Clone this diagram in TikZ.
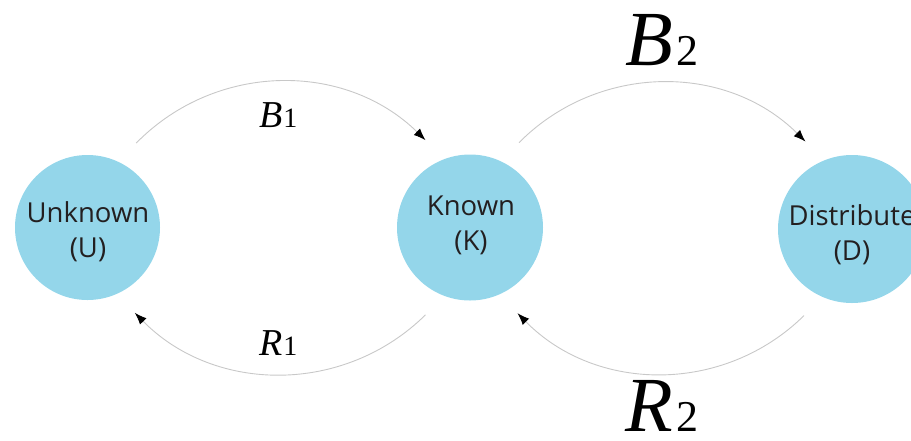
\documentclass[tikz,border=0pt]{standalone}
\usepackage{fontspec}
\newfontfamily\nodefont{Open Sans}
\newfontfamily\lblfont{Liberation Serif}
\usetikzlibrary{arrows.meta}
\definecolor{circfill}{RGB}{148,214,234}
\definecolor{txtc}{RGB}{35,31,32}
\definecolor{arcgray}{RGB}{200,200,200}
\begin{document}
\begin{tikzpicture}[x=1pt,y=1pt,
  state/.style={circle,fill=circfill,draw=none,inner sep=0pt,minimum size=#1,outer sep=25pt},
  ntext/.style={anchor=base,inner sep=0pt,text=txtc,font=\nodefont\fontsize{27.5}{30}\selectfont},
  conn/.style={draw=arcgray,line width=0.9pt,-{Latex[color=black,length=12pt,width=9pt]}},
  small/.style={anchor=base west,inner sep=0pt,font=\lblfont\fontsize{38}{40}\selectfont},
  big/.style={anchor=base west,inner sep=0pt,font=\lblfont\fontsize{78}{80}\selectfont}]
\useasboundingbox (0,0) rectangle (911,-440);
\node[state=145] (U) at (87.5,-227.5) {};
\node[state=146] (K) at (470,-227.5) {};
\node[state=148] (D) at (852,-229) {};
\node[ntext] (U1) at (88,-222) {Unknown};
\node[ntext] (U2) at (88,-257) {(U)};
\node[ntext] (K1) at (471,-215) {Known};
\node[ntext] (K2) at (471,-250) {(K)};
\node[ntext] (D1) at (852,-225) {Distribute};
\node[ntext] (D2) at (852,-260) {(D)};
\draw[conn] (U.60) to[bend left=45] (K.117);
\draw[conn] (K.243) to[bend left=45] (U.299);
\draw[conn] (K.60) to[bend left=45] (D.118);
\draw[conn] (D.241) to[bend left=45] (K.299);
\node[small] (B1) at (259,-127) {\itshape B\upshape\fontsize{28}{30}\selectfont\kern1pt 1};
\node[small] (R1) at (259,-355) {\itshape R\upshape\fontsize{28}{30}\selectfont\kern1pt 1};
\node[big] (B2) at (625,-65) {\itshape B\upshape\fontsize{44}{46}\selectfont\kern4pt 2};
\node[big] (R2) at (625,-431) {\itshape R\upshape\fontsize{44}{46}\selectfont\kern4pt 2};
\end{tikzpicture}
\end{document}
